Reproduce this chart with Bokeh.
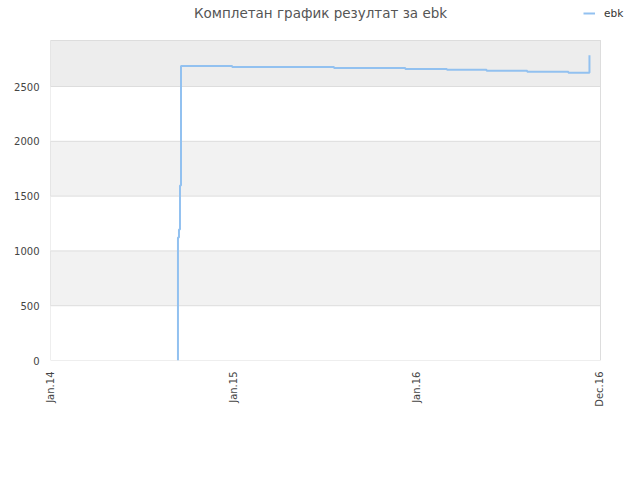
from bokeh.plotting import figure
from bokeh.models import Range1d, FixedTicker, BoxAnnotation, Legend, LegendItem, DatetimeTickFormatter, Label
from bokeh.embed import file_html
from bokeh.resources import INLINE
import pandas as pd

# step series: score of "ebk" over time
step_dates = ["2014-09-12", "2014-09-12", "2014-09-14", "2014-09-16", "2014-09-18",
              "2014-12-29", "2015-07-20", "2015-12-09", "2016-03-01", "2016-05-19",
              "2016-08-08", "2016-10-29", "2016-12-10"]
step_values = [0, 1123, 1196, 1598, 2688,
               2679, 2670, 2661, 2652, 2643,
               2634, 2626, 2785]

band_edges = [(500, 1000), (1500, 2000)]
tick_dates = ["2014-01-01", "2015-01-01", "2016-01-01", "2016-12-31"]
y_ticks = [0, 500, 1000, 1500, 2000, 2500]
y_top = 2920

x = pd.to_datetime(step_dates)
tick_ms = [pd.Timestamp(d).value // 10**6 for d in tick_dates]
start_ms = pd.Timestamp("2014-01-01").value // 10**6
end_ms = pd.Timestamp("2017-01-01").value // 10**6

# the frame fills the canvas to the top and right so the title and legend
# can sit outside the drawn plot area; the plot box itself is drawn below
frame_end = start_ms + (end_ms - start_ms) * 590 / 550
p = figure(width=640, height=480, x_axis_type="datetime", title_location=None,
           output_backend="svg", toolbar_location=None,
           x_range=Range1d(start_ms, frame_end),
           y_range=Range1d(0, y_top * 360 / 320),
           min_border_left=50, min_border_right=0, min_border_top=0, min_border_bottom=120)
p.outline_line_color = None
p.background_fill_color = "white"
p.xgrid.grid_line_color = None
p.ygrid.grid_line_color = None

# alternating bands, their edges double as grid lines
for lo, hi in band_edges:
    p.add_layout(BoxAnnotation(left=start_ms, right=end_ms, bottom=lo, top=hi,
                               fill_color="#f2f2f2", fill_alpha=1,
                               line_color="#dddddd", line_alpha=1, level="image"))
p.add_layout(BoxAnnotation(left=start_ms, right=end_ms, bottom=2500, top=y_top,
                           fill_color="#ededed", fill_alpha=1,
                           line_color="#dddddd", line_alpha=1, level="image"))
p.add_layout(BoxAnnotation(left=start_ms, right=end_ms, bottom=0, top=y_top,
                           fill_alpha=0, line_color="#dddddd", line_alpha=1, level="underlay"))

r = p.step(x, step_values, mode="after", line_color="#92c1f0", line_width=2)

p.yaxis.ticker = FixedTicker(ticks=y_ticks)
p.xaxis.ticker = FixedTicker(ticks=tick_ms)
p.xaxis.formatter = DatetimeTickFormatter(days="%b.%y", months="%b.%y", years="%b.%y",
                                          hours="%b.%y", minutes="%b.%y", seconds="%b.%y",
                                          milliseconds="%b.%y", minsec="%b.%y", hourmin="%b.%y")
p.xaxis.major_label_orientation = 1.5708

for ax in (p.xaxis, p.yaxis):
    ax.axis_line_color = None
    ax.major_tick_line_color = None
    ax.minor_tick_line_color = None
    ax.major_label_text_font = "DejaVu Sans"
    ax.major_label_text_font_size = "10px"
    ax.major_label_text_color = "#444444"

title = Label(x=270, y=348, x_units="screen", y_units="screen",
              text="Комплетан график резултат за ebk", text_align="center",
              text_baseline="middle", text_font="DejaVu Sans", text_font_size="13.5px",
              text_color="#555555")
p.add_layout(title)

legend = Legend(items=[LegendItem(label="ebk", renderers=[r])], location=(533, 341),
                glyph_width=12, glyph_height=12, label_height=12, label_standoff=9,
                label_text_font="DejaVu Sans", label_text_font_size="10.5px",
                label_text_color="#333333", label_text_baseline="middle",
                border_line_color=None, background_fill_alpha=0, padding=0, margin=0)
p.add_layout(legend)

open("out.html", "w").write(file_html(p, INLINE))
